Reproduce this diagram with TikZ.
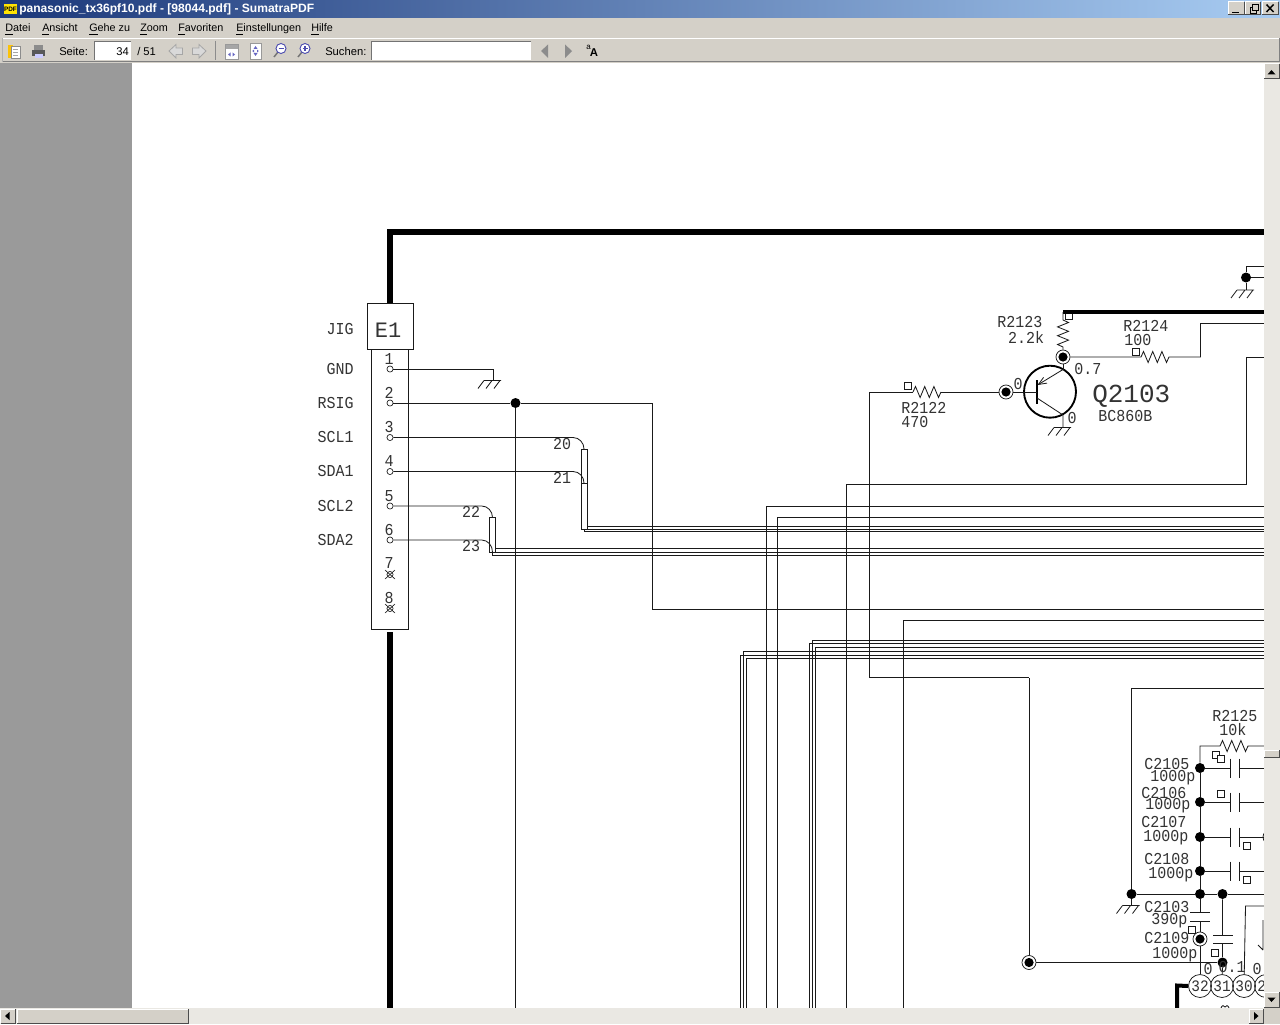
\documentclass[tikz,border=0pt]{standalone}
\usepackage{fontspec}
\usetikzlibrary{arrows.meta}
\setmainfont{Liberation Sans}
\setmonofont{Liberation Mono}
\newfontfamily\uifont{Liberation Sans}
\newfontfamily\schfont[FakeStretch=0.9]{Liberation Mono}
\newfontfamily\schbig{Liberation Mono}
\definecolor{winface}{HTML}{D4D0C8}
\definecolor{deskgray}{HTML}{9A9A9A}
\definecolor{track}{HTML}{EAE8E3}
\definecolor{wire}{HTML}{1A1A1A}
\definecolor{labc}{HTML}{333333}
\definecolor{titleL}{HTML}{1C387A}
\definecolor{titleR}{HTML}{A8CCF2}
\newcommand{\zigH}{-- ++(2.5,-5.5) -- ++(4.6,11) -- ++(4.6,-11) -- ++(4.6,11) -- ++(4.6,-11) -- ++(4.6,11) -- ++(2.5,-5.5)}
\newcommand{\zigV}{-- ++(5.5,2.5) -- ++(-11,4.4) -- ++(11,4.4) -- ++(-11,4.4) -- ++(11,4.4) -- ++(-11,4.4) -- ++(5.5,2.5)}
\tikzset{
  x=0.75pt,y=-0.75pt,
  lw/.style={line width=0.62pt,draw=wire},
  thick5/.style={line width=3.9pt,draw=black},
  thick3/.style={line width=2.6pt,draw=black},
  dotj/.style={circle,fill=black,inner sep=0,minimum size=7.5pt},
  dbl/.style={circle,draw=wire,fill=white,line width=0.55pt,inner sep=0,minimum size=10.5pt,
     path picture={\fill[black] (path picture bounding box.center) circle (4.6);}},
  pinc/.style={circle,draw=wire,fill=white,line width=0.5pt,inner sep=0,minimum size=4.6pt},
  numc/.style={circle,draw=wire,line width=0.55pt,inner sep=0,minimum size=17.2pt,text=labc,font=\schfont\fontsize{12}{12}\selectfont},
  tsq/.style={rectangle,draw=wire,fill=white,line width=0.5pt,inner sep=0,minimum size=5pt},
  lab/.style={inner sep=0,text=labc,font=\schfont\fontsize{12.5}{12.5}\selectfont},
  labbig/.style={inner sep=0,text=labc,font=\schbig\fontsize{19.5}{19.5}\selectfont},
  labe/.style={inner sep=0,text=labc,font=\schbig\fontsize{16.5}{16.5}\selectfont},
  ui/.style={inner sep=0,anchor=west,text=black,font=\uifont\fontsize{8.4}{10}\selectfont},
  menu/.style={inner sep=0,anchor=base west,text=black,font=\uifont\fontsize{8.1}{10}\selectfont},
  pics/gnd/.style={code={
    \draw[lw] (-9,0) -- (8,0) (-9,0) -- (-15,8) (-1,0) -- (-7,8) (7,0) -- (1,8);}},
  pics/caph/.style={code={
    \draw[lw,line width=0.7pt] (0,-9.5) -- (0,9.5) (9,-9.5) -- (9,9.5);}},
}
\newcommand{\bevel}[4]{%
  \fill[winface] (#1,#2) rectangle (#3,#4);
  \draw[white,line width=0.75pt] (#1,#4) -- (#1,#2) -- (#3,#2);
  \draw[black!70,line width=0.75pt] (#3,#2) -- (#3,#4) -- (#1,#4);}
\begin{document}
\begin{tikzpicture}
\useasboundingbox (0,0) rectangle (1280,1024);
% ===== window chrome =====
\fill[white] (0,0) rectangle (1280,1024);
\fill[deskgray] (0,63) rectangle (132,1008);
\shade[left color=titleL,right color=titleR] (0,0) rectangle (1280,18);
\fill[winface] (0,18) rectangle (1280,63);
\draw[white,line width=0.75pt] (2,38.5) -- (1279,38.5);
\draw[black!50,line width=0.75pt] (2,62) -- (1279,62) (1279,38.5) -- (1279,62);
\draw[black!30,line width=0.75pt] (2,38.5) -- (2,62);
% pdf icon + title
\fill[yellow!85!orange] (4,4) rectangle (17,14);
\node[inner sep=0,font=\uifont\bfseries\fontsize{4.8}{5}\selectfont] (pdficon) at (10.5,9) {PDF};
\node[inner sep=0,anchor=base west,text=white,font=\uifont\bfseries\fontsize{9.05}{10}\selectfont] (title) at (19,13) {panasonic\_tx36pf10.pdf - [98044.pdf] - SumatraPDF};
% window buttons
\bevel{1228}{2}{1244}{15}
\bevel{1245}{2}{1260}{15}
\bevel{1262}{2}{1278}{15}
\draw[black,line width=1.4pt] (1232,12.5) -- (1239,12.5);
\draw[black,line width=0.75pt] (1250,8) rectangle (1256,13.5);
\fill[winface] (1252,5) rectangle (1258.5,10.5);
\draw[black,line width=0.75pt] (1252,5) rectangle (1258.5,10.5);
\draw[black,line width=1.1pt] (1266.5,4.5) -- (1273.5,12) (1273.5,4.5) -- (1266.5,12);
% menu
\foreach \t/\x in {{\underline{D}atei}/5,{\underline{A}nsicht}/42,{\underline{G}ehe zu}/89,{\underline{Z}oom}/140,{\underline{F}avoriten}/178,{\underline{E}instellungen}/236,{\underline{H}ilfe}/311}
  \node[menu] at (\x,32) {\t};
% toolbar icons
\fill[yellow!55!orange] (8,45) rectangle (13,58);
\fill[white] (11,46) rectangle (20,58);
\draw[black!45,line width=0.5pt] (11,46) rectangle (20,58);
\draw[black!35,line width=0.4pt] (13,49) -- (18,49) (13,52) -- (18,52) (13,55) -- (18,55);
\fill[black!45] (34,45) rectangle (43,51);
\fill[black!65] (32,50) rectangle (45,56);
\fill[white!80!blue] (35,54) rectangle (43,58);
\node[ui] (seite) at (59,51.5) {Seite:};
\fill[white] (94,41) rectangle (131,60);
\draw[black!55,line width=0.6pt] (131,41) -- (94,41) -- (94,60);
\node[ui,anchor=east] (pageno) at (129,51.5) {34};
\node[ui] (pagemax) at (137,51.5) {/ 51};
\draw[black!35,fill=white!85!black,line width=0.6pt] (169,51) -- (176,44.5) -- (176,48) -- (182.5,48) -- (182.5,54.5) -- (176,54.5) -- (176,58) -- cycle;
\draw[black!35,fill=white!85!black,line width=0.6pt] (206,51) -- (199,44.5) -- (199,48) -- (192.5,48) -- (192.5,54.5) -- (199,54.5) -- (199,58) -- cycle;
\draw[black!45,line width=0.75pt] (215.5,41) -- (215.5,60);
\fill[white] (225,44) rectangle (238,59);
\fill[black!35] (225,44) rectangle (238,49);
\draw[black!40,line width=0.5pt] (225,44) rectangle (238,59);
\fill[blue!60!black!60] (228,54.5) -- (230.5,52.5) -- (230.5,56.5) -- cycle (235,54.5) -- (232.5,52.5) -- (232.5,56.5) -- cycle;
\fill[white] (250,43) rectangle (261,59);
\draw[black!40,line width=0.5pt] (250,43) rectangle (261,59);
\fill[blue!60!black!60] (255.5,46) -- (253.5,49) -- (257.5,49) -- cycle (255.5,56) -- (253.5,53) -- (257.5,53) -- cycle (252.2,51) -- (254,49.7) -- (254,52.3) -- cycle (258.8,51) -- (257,49.7) -- (257,52.3) -- cycle;
\draw[black!55,line width=1.1pt] (278,52) -- (274,57);
\draw[blue!55!black!70,fill=white,line width=0.7pt] (281,48.5) circle (5);
\draw[blue!55!black!70,line width=0.8pt] (278.5,48.5) -- (283.5,48.5);
\draw[black!55,line width=1.1pt] (302,52) -- (298,57);
\draw[blue!55!black!70,fill=white,line width=0.7pt] (305,48.5) circle (5);
\draw[blue!55!black!70,line width=0.8pt] (302.5,48.5) -- (307.5,48.5) (305,46) -- (305,51);
\node[ui] (suchen) at (325,51.5) {Suchen:};
\fill[white] (371,41) rectangle (531,60);
\draw[black!55,line width=0.6pt] (531,41) -- (371,41) -- (371,60);
\fill[black!45] (541,51) -- (548,44.5) -- (548,58) -- cycle;
\fill[black!45] (572,51) -- (565,44.5) -- (565,58) -- cycle;
\node[inner sep=0,font=\fontsize{6}{6}\selectfont] (smalla) at (588.5,47.5) {a};
\node[inner sep=0,font=\bfseries\fontsize{8.5}{8}\selectfont] (bigA) at (594,53) {A};
% ===== schematic =====
\begin{scope}
\clip (132,63) rectangle (1264,1008);
\coordinate (fTL) at (390,232);
\coordinate (fR) at (1264,232);
\coordinate (fB) at (390,1008);
\node[rectangle,draw=wire,line width=0.6pt,fill=white,minimum width=34.5pt,minimum height=34.5pt,inner sep=0] (E1) at (390,326) {};
\node[rectangle,draw=wire,line width=0.6pt,fill=white,minimum width=27.7pt,minimum height=210pt,inner sep=0] (conn) at (390,489) {};
\draw[thick5] (fR) -- (fTL) -- (E1.north);
\draw[thick5] (conn.south) ++(0,3) -- (fB);
\node[labe,anchor=center] (E1t) at (388,330) {E1};
% pins
\foreach \n/\y/\l in {1/369/GND,2/403/RSIG,3/437.5/SCL1,4/471.5/SDA1,5/506/SCL2,6/540/SDA2}{
  \node[pinc] (p\n) at (390,\y) {};
  \node[lab] (pn\n) at (389,\y-10) {\n};
  \node[lab,anchor=east] (pl\n) at (354,\y) {\l};
}
\node[lab,anchor=east] (jig) at (354,329) {JIG};
\foreach \n/\y in {7/574.5,8/608.5}{
  \node[pinc] (p\n) at (390,\y) {};
  \draw[lw,line width=.45pt] (385,\y-4.5) -- (395,\y+4.5) (395,\y-4.5) -- (385,\y+4.5);
  \node[lab] (pn\n) at (389,\y-11) {\n};
}
% wire to ground from pin 1
\coordinate (g1) at (493,380.5);
\draw[lw] (p1) -| (g1);
\pic at (g1) {gnd};
% pin 2 net
\node[dotj] (jA) at (515.5,403) {};
\coordinate (bend652) at (652.5,403);
\coordinate (e609) at (1264,609);
\coordinate (b515) at (515.5,1008);
\draw[lw] (p2) -- (jA);
\draw[lw] (jA) -- (bend652) |- (e609);
\draw[lw] (jA) -- (b515);
% bus A
\coordinate (bA1) at (584,449);
\coordinate (bA2) at (584,483);
\draw[lw] (p3) -- (573,437.5) to[out=0,in=90] (bA1);
\draw[lw] (p4) -- (573,471.5) to[out=0,in=90] (bA2);
\draw[lw] (581,483) -- (587,483);
\draw[lw] (581,449) rectangle (587,529);
\draw[lw] (587,526) -- (1264,526);
\draw[lw] (581,529) -- (1264,529);
\draw[lw] (584,529) -- (584,531.7) -- (1264,531.7);
\node[lab] (n20) at (562,444) {20};
\node[lab] (n21) at (562,478) {21};
% bus B
\coordinate (bB1) at (492.5,517.5);
\coordinate (bB2) at (492.5,552);
\draw[lw] (p5) -- (481.7,506) to[out=0,in=90] (bB1);
\draw[lw] (p6) -- (481.7,540) to[out=0,in=90] (bB2);
\draw[lw] (489.5,517.5) rectangle (495.5,552);
\draw[lw] (495.5,548.7) -- (1264,548.7);
\draw[lw] (489.5,552) -- (1264,552);
\draw[lw] (492.5,552) -- (492.5,555) -- (1264,555);
\node[lab] (n22) at (471,512) {22};
\node[lab] (n23) at (471,546) {23};
% long corners
\foreach \x/\y in {766/506,777.5/517,903.5/620,812/640,809/643.5,815/647,743.5/651.7,740/655,746.5/658}
  \draw[lw] (\x,1008) -- (\x,\y) -- (1264,\y);
% Q2103 net
\node[circle,draw=black,line width=1.4pt,inner sep=0,minimum size=39pt] (Q) at (1050,391.7) {};
\node[labbig,anchor=west] (Qt) at (1092,396) {Q2103};
\node[lab,anchor=west] (Qm) at (1098,416) {BC860B};
\node[dbl] (jE) at (1063,357) {};
\node[dbl] (jB) at (1006,392) {};
\node[tsq] (sB) at (907.5,385.5) {};
\node[tsq] (sC) at (1068.5,316) {};
\node[tsq] (sR4) at (1135.5,351.5) {};
\coordinate (base) at (1037,392);
\coordinate (emi) at (1063,369.5);
\coordinate (col) at (1063,415);
\coordinate (qgnd) at (1063,427.5);
\draw[line width=1.1pt,draw=black] (1037,380) -- (1037,404);
\draw[lw] (jB) -- (base);
\draw[lw] (jE) -- (emi);
\draw[lw,-{Straight Barb[length=6pt,width=5pt]}] (emi) -- (1037.5,385);
\draw[lw] (1037,398) -- (col) -- (qgnd);
\pic at (qgnd) {gnd};
\node[lab] (l0a) at (1018,384) {0};
\node[lab,anchor=west] (l07) at (1074,369) {0.7};
\node[lab] (l0b) at (1072,418) {0};
% thick rail + R2123
\coordinate (railL) at (1063,312);
\coordinate (railR) at (1264,312);
\draw[thick3] (railL) -- (railR);
\draw[lw] (railL) -- (1063,320) \zigV -- (jE);
\node[lab,anchor=west] (R2123) at (997,322) {R2123};
\node[lab,anchor=east] (R2123v) at (1044.5,337) {2.2k};
% R2124
\coordinate (e323) at (1264,323.5);
\draw[lw] (jE) -- (1141,357) \zigH -- (1200.5,357) -- (1200.5,323.5) -- (e323);
\node[lab,anchor=west] (R2124) at (1123,326) {R2124};
\node[lab,anchor=west] (R2124v) at (1124,340) {100};
% R2122
\draw[lw] (jB) -- (941,392);
\draw[lw] (913,392) \zigH;
\draw[lw] (913,392) -- (869.5,392) -- (869.5,677.5) -- (1029,677.5);
\node[lab,anchor=west] (R2122) at (901,408) {R2122};
\node[lab,anchor=west] (R2122v) at (901,422) {470};
% Q collector bus
\coordinate (e357) at (1264,357.5);
\draw[lw] (846.5,1008) -- (846.5,484) -- (1246,484) -- (1246,357.5) -- (e357);
% top right ground
\node[dotj] (jT) at (1246,277.5) {};
\coordinate (gT) at (1246,290);
\coordinate (e266) at (1264,266);
\coordinate (e277) at (1264,277.5);
\draw[lw] (jT) -- (gT);
\pic at (gT) {gnd};
\draw[lw] (jT) -- (1246,266) -- (e266);
\draw[lw] (jT) -- (e277);
% lower right block
\coordinate (e688) at (1264,688);
\node[dotj] (jG) at (1131.5,894) {};
\node[dotj] (j894) at (1200,894) {};
\node[dotj] (j894b) at (1222.5,894) {};
\coordinate (e894) at (1264,894);
\draw[lw] (jG) -- (j894) -- (j894b) -- (e894);
\draw[lw] (jG) |- (e688);
\coordinate (gG) at (1131.5,905.5);
\draw[lw] (jG) -- (gG);
\pic at (gG) {gnd};
\foreach \n/\y in {05/768,06/802,07/837,08/871}{
  \node[dotj] (jc\n) at (1200,\y) {};
  \draw[lw] (jc\n) -- (1230,\y);
  \pic at (1230,\y) {caph};
  \draw[lw] (1239,\y) -- (1264,\y);
}
\draw[lw] (jc05) -- (jc06) -- (jc07) -- (jc08) -- (j894);
\coordinate (e746) at (1264,746);
\draw[lw] (jc05) -- (1200,746) -- (1220,746) \zigH -- (e746);
\node[tsq] (s1) at (1216,754.7) {};
\node[tsq] (s2) at (1221,759) {};
\node[tsq] (s3) at (1221,794) {};
\node[tsq] (s4) at (1247,846) {};
\node[tsq] (s5) at (1247,880) {};
\draw[lw] (1270,837) circle (7);
% pins 32 31 30 29
\node[numc] (c32) at (1200,986) {32};
\node[numc] (c31) at (1222,986) {31};
\node[numc] (c30) at (1244,986) {30};
\node[numc] (c29) at (1266,986) {29};
% C2103 / C2109 column
\node[dbl] (jC9) at (1200,939) {};
\draw[lw] (j894) -- (1200,912) (1200,921) -- (jC9) -- (c32);
\draw[lw,line width=.75pt] (1190,912) -- (1210,912) (1190,921) -- (1210,921);
\node[dotj] (j963) at (1222.5,962.5) {};
\node[dbl] (jIn) at (1029,962.5) {};
\draw[lw] (j894b) -- (1222.5,935) (1222.5,943) -- (j963) -- (c31);
\draw[lw,line width=.75pt] (1213,935) -- (1233,935) (1213,943) -- (1233,943);
\draw[lw] (jIn) -- (j963);
\draw[lw] (jIn) -- (1029,677.5);
\node[tsq] (s6) at (1192,930) {};
\node[tsq] (s7) at (1215,953) {};
\coordinate (e906) at (1264,906);
\draw[lw] (c30) -- (1245.5,906) -- (e906);
\draw[lw] (1263,920) -- (1263,950) (1263,950) -- (1258,945);
\draw[thick3,line width=3pt] (c32.west) -- (1177,985.5) -- (1177,1008);
\draw[lw] (1221,1008) .. controls (1222,1005) and (1224,1005) .. (1225,1007) .. controls (1226,1005) and (1228,1005) .. (1229,1008);
% block labels
\foreach \nm/\t/\x/\y in {
 a/R2125/1212/716, b/10k/1219/730,
 c/C2105/1144/763.5, d/1000p/1150/777.5,
 e/C2106/1141/792.5, f/1000p/1145/806,
 g/C2107/1141/822, h/1000p/1143/837.5,
 i/C2108/1144/859, j/1000p/1148/874.5,
 k/C2103/1144/907, l/390p/1151/921,
 m/C2109/1144/938, n/1000p/1152/954.5}
  \node[lab,anchor=west] (t\nm) at (\x,\y) {\t};
\node[lab] (v0a) at (1208,969) {0};
\node[lab] (v01) at (1232,967) {0.1};
\node[lab] (v0c) at (1257,969) {0};
\end{scope}
% ===== scrollbars =====
\fill[track] (1264,63) rectangle (1280,1008);
\fill[track] (0,1008) rectangle (1264,1024);
\fill[winface] (1264,1008) rectangle (1280,1024);
\bevel{1264}{64}{1279}{79}
\fill[black] (1267.5,74.5) -- (1271.5,70) -- (1275.5,74.5) -- cycle;
\bevel{1264}{992}{1279}{1007}
\fill[black] (1267.5,997.5) -- (1271.5,1002) -- (1275.5,997.5) -- cycle;
\bevel{1264}{750}{1279}{757}
\bevel{0.5}{1009}{15}{1023}
\fill[black] (5,1016) -- (9.5,1012) -- (9.5,1020) -- cycle;
\bevel{17}{1009}{188}{1023}
\bevel{1249}{1009}{1263}{1023}
\fill[black] (1258.5,1016) -- (1254,1012) -- (1254,1020) -- cycle;
\end{tikzpicture}
\end{document}
